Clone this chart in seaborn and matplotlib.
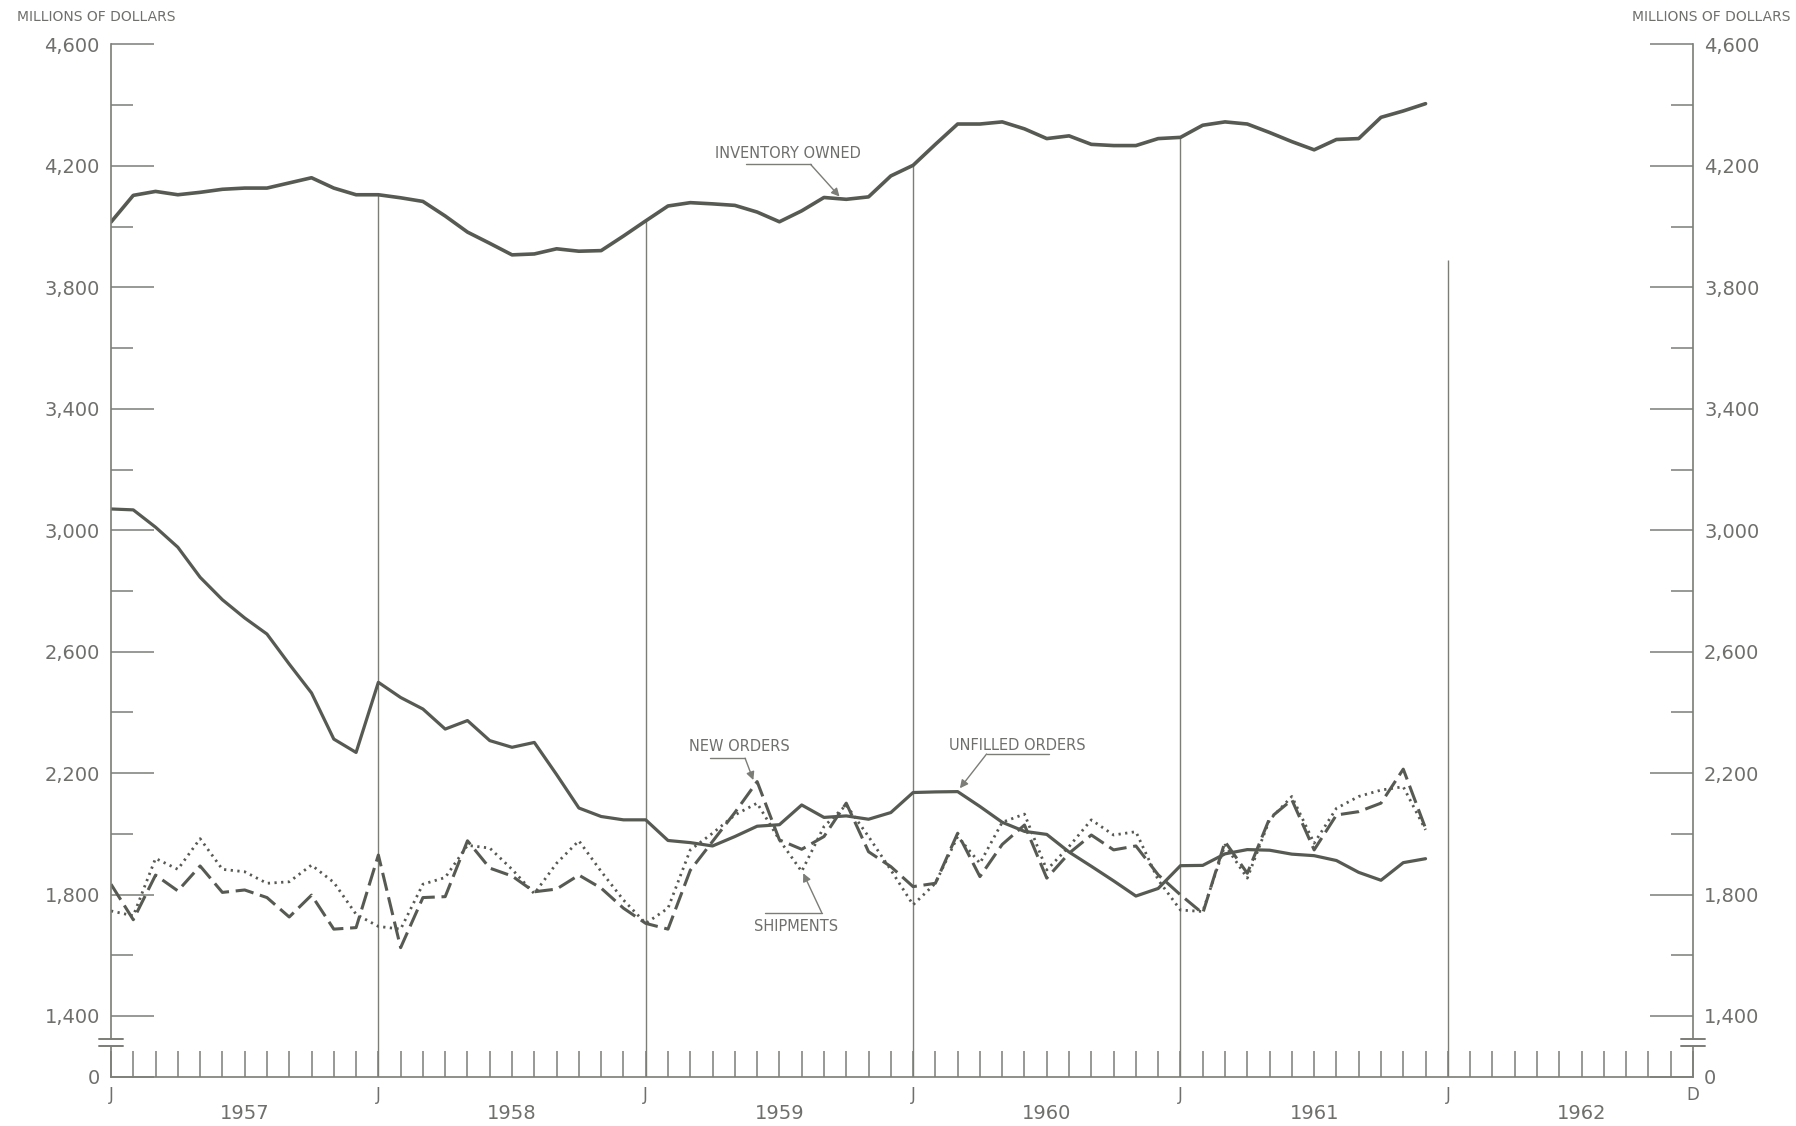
import numpy as np
import pandas as pd
import matplotlib
matplotlib.use("Agg")
import matplotlib.pyplot as plt
from matplotlib.patches import Rectangle
import seaborn as sns

# ---------------- data (monthly, Jan 1957 .. Dec 1961) ----------------
months = list(range(60))

inventory = [4015, 4103, 4116, 4105, 4113, 4123, 4127, 4127, 4144, 4161, 4127, 4105,
             4105, 4095, 4083, 4035, 3982, 3945, 3907, 3910, 3927, 3919, 3921, 3969,
             4019, 4068, 4079, 4075, 4070, 4048, 4016, 4052, 4096, 4090, 4098, 4167,
             4202, 4271, 4338, 4338, 4345, 4322, 4290, 4299, 4271, 4267, 4267, 4290,
             4294, 4334, 4345, 4338, 4310, 4280, 4253, 4287, 4290, 4360, 4381, 4405]

unfilled = [3070, 3067, 3010, 2944, 2845, 2771, 2711, 2658, 2559, 2464, 2312, 2268,
            2499, 2449, 2411, 2345, 2373, 2307, 2285, 2301, 2195, 2085, 2057, 2046,
            2046, 1978, 1971, 1960, 1991, 2025, 2030, 2095, 2054, 2059, 2048, 2070,
            2136, 2138, 2139, 2090, 2038, 2008, 1998, 1940, 1893, 1845, 1795, 1820,
            1895, 1896, 1934, 1948, 1946, 1933, 1928, 1912, 1873, 1847, 1905, 1918]

new_orders = [1834, 1717, 1864, 1812, 1894, 1807, 1815, 1790, 1726, 1798, 1686, 1691,
              1930, 1625, 1790, 1793, 1977, 1887, 1861, 1809, 1818, 1864, 1821, 1755,
              1705, 1686, 1880, 1975, 2070, 2172, 1980, 1949, 1991, 2101, 1941, 1892,
              1826, 1837, 2002, 1859, 1965, 2029, 1854, 1936, 1996, 1947, 1960, 1865,
              1799, 1738, 1974, 1870, 2051, 2112, 1947, 2062, 2073, 2101, 2213, 2018]

shipments = [1746, 1730, 1919, 1883, 1984, 1883, 1875, 1837, 1842, 1897, 1840, 1735,
             1695, 1686, 1834, 1856, 1962, 1953, 1883, 1803, 1903, 1977, 1876, 1782,
             1705, 1755, 1947, 2002, 2062, 2101, 1980, 1876, 2024, 2095, 1991, 1881,
             1766, 1837, 1991, 1903, 2038, 2065, 1881, 1958, 2046, 1996, 2007, 1848,
             1749, 1744, 1963, 1854, 2046, 2123, 1969, 2084, 2123, 2144, 2155, 2013]

year_labels = ["1957", "1958", "1959", "1960", "1961", "1962"]
major_y = [1400, 1800, 2200, 2600, 3000, 3400, 3800, 4200, 4600]
minor_y = [1600, 2000, 2400, 2800, 3200, 3600, 4000, 4400]
zero_pos = 1200          # where "0" sits below the scale break
jan_1962_top = 3890      # height of the Jan-1962 guide line

df = pd.DataFrame({"month": months, "inventory": inventory, "unfilled": unfilled,
                   "new_orders": new_orders, "shipments": shipments})

# ---------------- style ----------------
sns.set_theme(style="white")
plt.rcParams['font.family'] = ['DejaVu Sans']
plt.rcParams['xtick.bottom'] = True
plt.rcParams['ytick.left'] = True
line_c = "#565a52"
axis_c = "#7b7d76"
text_c = "#6f706c"

fig = plt.figure(figsize=(17.96, 11.26), dpi=100)
fig.patch.set_facecolor("white")
ax = fig.add_axes([0.0618, 0.0438, 0.8808, 0.9167])
ax.set_facecolor("white")

# ---------------- series ----------------
sns.lineplot(data=df, x="month", y="inventory", ax=ax, color=line_c, linewidth=2.6)
sns.lineplot(data=df, x="month", y="unfilled", ax=ax, color=line_c, linewidth=2.3)
sns.lineplot(data=df, x="month", y="new_orders", ax=ax, color=line_c, linewidth=2.2)
ax.lines[-1].set_linestyle((0, (6, 2.2)))
sns.lineplot(data=df, x="month", y="shipments", ax=ax, color=line_c, linewidth=2.0)
ax.lines[-1].set_linestyle((0, (0.8, 1.6)))

# January guide lines
jan_idx = [12, 24, 36, 48]
ax.vlines(jan_idx, zero_pos, [inventory[i] for i in jan_idx], color=axis_c, lw=1.0, zorder=1)
ax.vlines([60], zero_pos, [jan_1962_top], color=axis_c, lw=1.0, zorder=1)

# ---------------- axes ----------------
ax.set_xlim(0, 71)
ax.set_ylim(zero_pos, 4600)
ax.set_xlabel("")
ax.set_ylabel("")
for side in ["left", "right", "bottom"]:
    ax.spines[side].set_visible(True)
    ax.spines[side].set_color(axis_c)
    ax.spines[side].set_linewidth(1.2)
ax.spines["top"].set_visible(False)

ax.set_yticks([zero_pos] + major_y)
ax.set_yticklabels(["0"] + [f"{v:,}" for v in major_y])
ax.set_yticks(minor_y, minor=True)
ax.tick_params(axis="y", which="major", direction="in", length=31, width=1.1,
               color=axis_c, left=True, right=True, labelleft=True, labelright=True,
               labelsize=14, labelcolor=text_c, pad=8)
ax.tick_params(axis="y", which="minor", direction="in", length=16, width=1.1,
               color=axis_c, left=True, right=True)

xt = list(range(72))
xl = []
for m in xt:
    if m % 12 == 0:
        xl.append("J")
    elif m == 71:
        xl.append("D")
    else:
        xl.append("")
ax.xaxis.remove_overlapping_locs = False
ax.set_xticks(xt)
ax.set_xticklabels(xl)
ax.set_xticks([6 + 12 * k for k in range(6)], minor=True)
ax.set_xticklabels(year_labels, minor=True)
ax.tick_params(axis="x", which="major", direction="in", length=19, width=1.1,
               color=axis_c, bottom=True, labelbottom=True,
               labelsize=12, labelcolor=text_c, pad=7)
ax.tick_params(axis="x", which="minor", bottom=True, labelbottom=True, length=0,
               labelsize=14, labelcolor=text_c, pad=20)

# scale-break marks on both vertical axes
for xb in [0, 71]:
    ax.add_patch(Rectangle((xb - 0.3, 1302), 0.6, 20, facecolor="white", edgecolor="none",
                           clip_on=False, zorder=5))
    for yb in [1300, 1324]:
        ax.plot([xb - 0.55, xb + 0.55], [yb, yb], color=axis_c, lw=1.4,
                clip_on=False, zorder=6)

# ---------------- labels / annotations ----------------
fig.text(17 / 1796, 1 - 17 / 1126, "MILLIONS OF DOLLARS", ha="left", va="center",
         fontsize=10, color=text_c)
fig.text(1790 / 1796, 1 - 17 / 1126, "MILLIONS OF DOLLARS", ha="right", va="center",
         fontsize=10, color=text_c)

arrow_kw = dict(arrowstyle="-|>", color=axis_c, lw=1.0, mutation_scale=12,
                shrinkA=0, shrinkB=0)

def label(text, tx, ty, lx0, lx1, ly, start_x, tip):
    ax.text(tx, ty, text, ha="center", va="center", fontsize=10.5, color=text_c)
    ax.plot([lx0, lx1], [ly, ly], color=axis_c, lw=1.0)
    ax.annotate("", xy=tip, xytext=(start_x, ly), arrowprops=arrow_kw)

label("INVENTORY OWNED", 30.4, 4242, 28.5, 31.4, 4205, 31.4, (32.7, 4099))
label("NEW ORDERS", 28.2, 2289, 26.9, 28.46, 2249, 28.46, (28.83, 2177))
label("UNFILLED ORDERS", 40.7, 2292, 39.3, 42.1, 2263, 39.3, (38.1, 2150))
label("SHIPMENTS", 30.75, 1694, 29.35, 31.9, 1740, 31.9, (31.07, 1870))

fig.savefig("out.png", dpi=100, facecolor="white")
